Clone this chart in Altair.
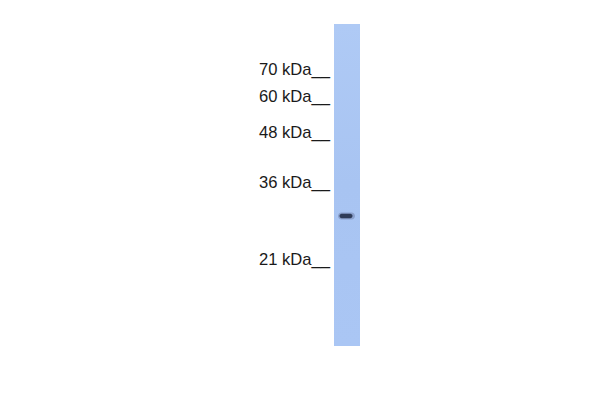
import altair as alt
import pandas as pd

# Molecular-weight markers (kDa) and their migration position on the gel
marker_kda = [70, 60, 48, 36, 21]
marker_pos = [75, 102, 138, 188, 265]

# Single sample lane: horizontal extent and vertical extent of the gel strip
lane_left = [334]
lane_right = [360]
lane_top = [24]
lane_bottom = [346]

# Detected band (upper/lower edge, left/right edge)
band_top = [212.5]
band_bottom = [219.5]
band_left = [338]
band_right = [355]

X = alt.Scale(domain=[8, 592], nice=False, zero=False)
Y = alt.Scale(domain=[8, 392], reverse=True, nice=False, zero=False)

markers = pd.DataFrame({
    "label": [f"{k} kDa__" for k in marker_kda],
    "pos": marker_pos,
    "xr": [330] * len(marker_kda),
})
lane = pd.DataFrame({"x": lane_left, "x2": lane_right, "y": lane_top, "y2": lane_bottom})
band = pd.DataFrame({"x": band_left, "x2": band_right, "y": band_top, "y2": band_bottom})

lane_layer = alt.Chart(lane).mark_rect(
    color=alt.LinearGradient(
        gradient="linear", x1=0, x2=0, y1=0, y2=1,
        stops=[alt.GradientStop(color="#afcaf5", offset=0),
               alt.GradientStop(color="#a8c4f2", offset=0.5),
               alt.GradientStop(color="#aac6f4", offset=1)],
    )
).encode(
    x=alt.X("x:Q", scale=X, axis=None), x2="x2:Q",
    y=alt.Y("y:Q", scale=Y, axis=None), y2="y2:Q",
)

band_halo = alt.Chart(band).mark_rect(
    color="#6576a0", opacity=0.45, cornerRadius=3.5
).encode(
    x=alt.X("x:Q", scale=X, axis=None), x2="x2:Q",
    y=alt.Y("y:Q", scale=Y, axis=None), y2="y2:Q",
)
band_core = alt.Chart(band).transform_calculate(
    cx="datum.x + 1.5", cx2="datum.x2 - 2.5", cy="datum.y + 1.3", cy2="datum.y2 - 1.3"
).mark_rect(color="#2a3752", opacity=0.95, cornerRadius=2.5).encode(
    x=alt.X("cx:Q", scale=X, axis=None), x2="cx2:Q",
    y=alt.Y("cy:Q", scale=Y, axis=None), y2="cy2:Q",
)

labels = alt.Chart(markers).mark_text(
    align="right", baseline="alphabetic", font="Liberation Sans",
    fontSize=16.6, color="#1a1a1a"
).encode(
    x=alt.X("xr:Q", scale=X, axis=None),
    y=alt.Y("pos:Q", scale=Y, axis=None),
    text="label:N",
)

chart = alt.layer(lane_layer, band_halo, band_core, labels).properties(
    width=584, height=384, autosize="none", padding=0, background="white"
).configure_view(stroke=None)

chart.save("out.html", embed_options={"renderer": "svg", "actions": False})
